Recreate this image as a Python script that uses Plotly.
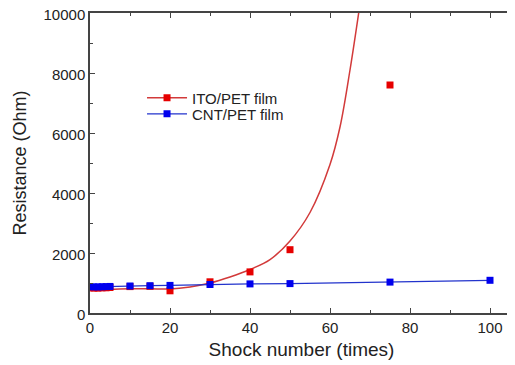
import plotly.graph_objects as go

# Data
ito_x = [0, 1, 2, 3, 4, 5, 10, 15, 20, 30, 40, 50, 75]
ito_y = [840, 830, 830, 840, 840, 850, 880, 890, 740, 1040, 1370, 2110, 7600]

cnt_x = [0, 1, 2, 3, 4, 5, 10, 15, 20, 30, 40, 50, 75, 100]
cnt_y = [880, 870, 870, 875, 880, 885, 900, 910, 920, 950, 970, 980, 1030, 1090]

# Fitted curve for ITO
fit_x = [0, 5, 10, 15, 20, 25, 30, 35, 40, 45, 50, 55, 60, 62.5, 65, 67.5]
fit_y = [770, 790, 805, 805, 800, 870, 1000, 1200, 1450, 1780, 2400, 3350, 4950, 6200, 8100, 10300]

RED = "#e60000"
RED_LINE = "#d23a3a"
BLUE = "#0000ee"
BLUE_LINE = "#2233cc"
FONT = "Liberation Sans, Arial, sans-serif"

fig = go.Figure()
fig.add_trace(go.Scatter(x=fit_x, y=fit_y, mode="lines",
                         line=dict(color=RED_LINE, width=1.5, shape="spline", smoothing=1.0),
                         showlegend=False, hoverinfo="skip"))
fig.add_trace(go.Scatter(x=ito_x, y=ito_y, mode="markers", marker=dict(symbol="square", size=7, color=RED),
                         showlegend=False))
fig.add_trace(go.Scatter(x=cnt_x, y=cnt_y, mode="lines+markers", line=dict(color=BLUE_LINE, width=1.3),
                         marker=dict(symbol="square", size=7, color=BLUE), showlegend=False))
# legend entries
fig.add_trace(go.Scatter(x=[None], y=[None], mode="lines+markers", name="ITO/PET film", legend="legend",
                         line=dict(color=RED_LINE, width=1.5), marker=dict(symbol="square", size=7, color=RED)))
fig.add_trace(go.Scatter(x=[None], y=[None], mode="lines+markers", name="CNT/PET film", legend="legend2",
                         line=dict(color=BLUE_LINE, width=1.3), marker=dict(symbol="square", size=7, color=BLUE)))

axis_common = dict(
    showline=True, linecolor="#444444", linewidth=1.5, mirror="allticks",
    ticks="inside", ticklen=5, tickwidth=1.2, tickcolor="#444444",
    showgrid=False, zeroline=False, automargin=False, tickformat="d",
    ticklabeloverflow="allow",
    tickfont=dict(family=FONT, size=15, color="#222222"),
)

fig.update_xaxes(range=[0, 105.75], tick0=0, dtick=20,
                 minor=dict(dtick=10, ticks="inside", ticklen=3, tickcolor="#444444", showgrid=False),
                 title=dict(text="Shock number (times)", standoff=8,
                            font=dict(family=FONT, size=19, color="#222222")),
                 **axis_common)
fig.update_yaxes(range=[0, 10000], tick0=0, dtick=2000, ticklabelshift=2,
                 minor=dict(dtick=1000, ticks="inside", ticklen=3, tickcolor="#444444", showgrid=False),
                 title=dict(text="Resistance (Ohm)", standoff=12,
                            font=dict(family=FONT, size=18, color="#222222")),
                 **axis_common)

legend_common = dict(xanchor="left", yanchor="middle", bgcolor="rgba(0,0,0,0)",
                     font=dict(family=FONT, size=15, color="#222222"), itemwidth=40)

fig.update_layout(
    width=507, height=357,
    margin=dict(l=82, r=2, t=5, b=52),
    plot_bgcolor="white", paper_bgcolor="white",
    showlegend=True,
    legend=dict(x=0.123, y=0.717, **legend_common),
    legend2=dict(x=0.123, y=0.663, **legend_common),
)

fig.write_html("out.html")
